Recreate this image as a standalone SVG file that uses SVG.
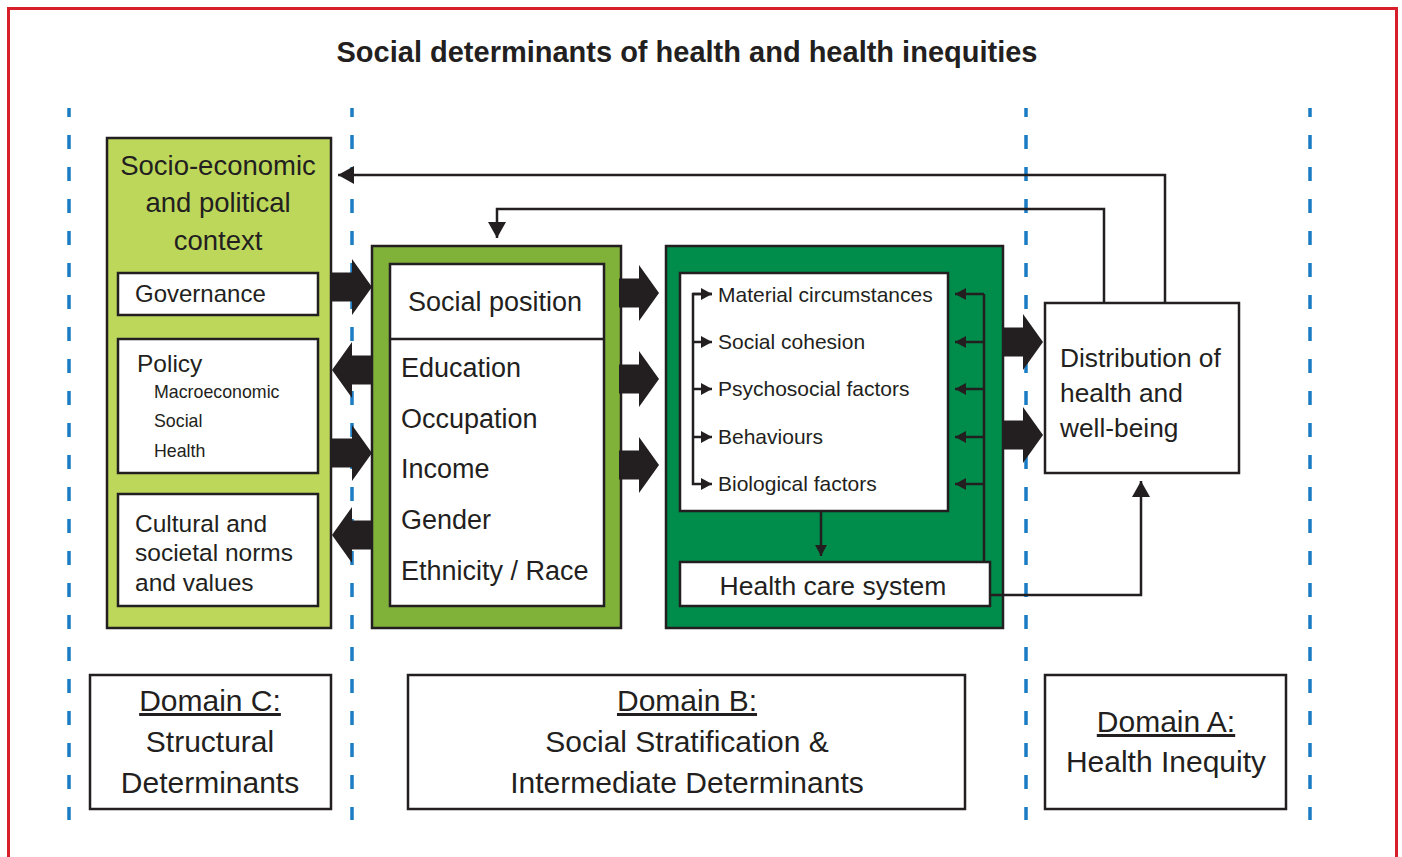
<svg xmlns="http://www.w3.org/2000/svg" width="1402" height="857" viewBox="0 0 1402 857">
<style>
text{font-family:"Liberation Sans",Arial,sans-serif;fill:#231f20}
.box{fill:#fff;stroke:#231f20;stroke-width:2.5}
.dash{stroke:#1a7cc4;stroke-width:3.5;stroke-dasharray:14 18;stroke-dashoffset:5;fill:none}
.ln{fill:none;stroke:#231f20;stroke-width:2.5}
.big{fill:#231f20}
.dom{font-size:30px;text-anchor:middle}
.u{text-decoration:underline}
</style>
<defs>
<path id="bigArrow" d="M-40,-14.5 H-20 V-28 L0,0 L-20,28 V14.5 H-40 Z"/>
<marker id="sm" markerUnits="userSpaceOnUse" markerWidth="11" markerHeight="12" refX="11" refY="6" orient="auto"><path d="M0,0 L11,6 L0,12 Z" fill="#231f20"/></marker>
<marker id="lg" markerUnits="userSpaceOnUse" markerWidth="16" markerHeight="18" refX="16" refY="9" orient="auto"><path d="M0,0 L16,9 L0,18 Z" fill="#231f20"/></marker>
</defs>
<rect width="1402" height="857" fill="#fff"/>
<rect x="8.5" y="8.5" width="1388" height="900" fill="none" stroke="#d71f2b" stroke-width="3"/>
<text x="687" y="62" font-size="29" font-weight="bold" text-anchor="middle">Social determinants of health and health inequities</text>
<g id="domain-dividers">
<line class="dash" x1="69" y1="108" x2="69" y2="820"/>
<line class="dash" x1="352" y1="108" x2="352" y2="820"/>
<line class="dash" x1="1026" y1="108" x2="1026" y2="820"/>
<line class="dash" x1="1310" y1="108" x2="1310" y2="820"/>
</g>
<g id="structural">
<rect x="107" y="138" width="224" height="490" fill="#bdd75b" stroke="#231f20" stroke-width="2.5"/>
<text x="218" y="175" font-size="27.5" text-anchor="middle">Socio-economic</text>
<text x="218" y="212" font-size="27.5" text-anchor="middle">and political</text>
<text x="218" y="250" font-size="27.5" text-anchor="middle">context</text>
</g>
<g id="governance">
<rect class="box" x="118" y="273" width="200" height="42"/>
<text x="135" y="302" font-size="24">Governance</text>
</g>
<g id="policy">
<rect class="box" x="118" y="339" width="200" height="134"/>
<text x="137" y="372" font-size="24.5">Policy</text>
<text x="154" y="398" font-size="17.8">Macroeconomic</text>
<text x="154" y="427" font-size="17.8">Social</text>
<text x="154" y="457" font-size="17.8">Health</text>
</g>
<g id="culture">
<rect class="box" x="118" y="494" width="200" height="112"/>
<text x="135" y="532" font-size="24.5">Cultural and</text>
<text x="135" y="561" font-size="24.5">societal norms</text>
<text x="135" y="591" font-size="24.5">and values</text>
</g>
<g id="social-position">
<rect x="372" y="246" width="249" height="382" fill="#80b23a" stroke="#231f20" stroke-width="2.5"/>
<rect class="box" x="390" y="264" width="214" height="342"/>
<line class="ln" x1="390" y1="339" x2="604" y2="339"/>
<text x="495" y="311" font-size="27" text-anchor="middle">Social position</text>
<text x="401" y="377" font-size="27">Education</text>
<text x="401" y="428" font-size="27">Occupation</text>
<text x="401" y="478" font-size="27">Income</text>
<text x="401" y="529" font-size="27">Gender</text>
<text x="401" y="580" font-size="27">Ethnicity / Race</text>
</g>
<g id="intermediate">
<rect x="666" y="246" width="337" height="382" fill="#008d4b" stroke="#231f20" stroke-width="2.5"/>
<rect class="box" x="680" y="273" width="268" height="238"/>
<text x="718" y="302" font-size="21">Material circumstances</text>
<text x="718" y="349" font-size="21">Social cohesion</text>
<text x="718" y="396" font-size="21">Psychosocial factors</text>
<text x="718" y="444" font-size="21">Behaviours</text>
<text x="718" y="491" font-size="21">Biological factors</text>
</g>
<g id="health-care">
<rect class="box" x="680" y="562" width="310" height="44"/>
<text x="833" y="595" font-size="26.5" text-anchor="middle">Health care system</text>
</g>
<g id="distribution">
<rect class="box" x="1045" y="303" width="194" height="170"/>
<text x="1060" y="367" font-size="26.3">Distribution of</text>
<text x="1060" y="402" font-size="26.3">health and</text>
<text x="1060" y="437" font-size="26.3">well-being</text>
</g>
<g id="domain-c">
<rect class="box" x="90" y="675" width="241" height="134"/>
<text class="dom u" x="210" y="711">Domain C:</text>
<text class="dom" x="210" y="752">Structural</text>
<text class="dom" x="210" y="793">Determinants</text>
</g>
<g id="domain-b">
<rect class="box" x="408" y="675" width="557" height="134"/>
<text class="dom u" x="687" y="711">Domain B:</text>
<text class="dom" x="687" y="752">Social Stratification &amp;</text>
<text class="dom" x="687" y="793">Intermediate Determinants</text>
</g>
<g id="domain-a">
<rect class="box" x="1045" y="675" width="241" height="134"/>
<text class="dom u" x="1166" y="732">Domain A:</text>
<text class="dom" x="1166" y="772">Health Inequity</text>
</g>
<g id="connectors">
<use href="#bigArrow" class="big" transform="translate(372,287)"/>
<use href="#bigArrow" class="big" transform="translate(332,370) scale(-1,1)"/>
<use href="#bigArrow" class="big" transform="translate(372,453)"/>
<use href="#bigArrow" class="big" transform="translate(332,535) scale(-1,1)"/>
<use href="#bigArrow" class="big" transform="translate(659,293)"/>
<use href="#bigArrow" class="big" transform="translate(659,379)"/>
<use href="#bigArrow" class="big" transform="translate(659,465)"/>
<use href="#bigArrow" class="big" transform="translate(1043,342)"/>
<use href="#bigArrow" class="big" transform="translate(1043,435)"/>
<path class="ln" d="M712,294 H693 V484 H712" marker-end="url(#sm)"/>
<line class="ln" x1="693" y1="294" x2="712" y2="294" marker-end="url(#sm)"/>
<line class="ln" x1="693" y1="342" x2="712" y2="342" marker-end="url(#sm)"/>
<line class="ln" x1="693" y1="389" x2="712" y2="389" marker-end="url(#sm)"/>
<line class="ln" x1="693" y1="437" x2="712" y2="437" marker-end="url(#sm)"/>
<line class="ln" x1="984" y1="294" x2="984" y2="562"/>
<line class="ln" x1="984" y1="294" x2="955" y2="294" marker-end="url(#sm)"/>
<line class="ln" x1="984" y1="342" x2="955" y2="342" marker-end="url(#sm)"/>
<line class="ln" x1="984" y1="389" x2="955" y2="389" marker-end="url(#sm)"/>
<line class="ln" x1="984" y1="437" x2="955" y2="437" marker-end="url(#sm)"/>
<line class="ln" x1="984" y1="484" x2="955" y2="484" marker-end="url(#sm)"/>
<line class="ln" x1="821" y1="511" x2="821" y2="556" marker-end="url(#sm)"/>
<path class="ln" d="M990,595 H1141 V481" marker-end="url(#lg)"/>
<path class="ln" d="M1165,303 V175 H338" marker-end="url(#lg)"/>
<path class="ln" d="M1104,303 V209 H497 V238" marker-end="url(#lg)"/>
</g>
</svg>
